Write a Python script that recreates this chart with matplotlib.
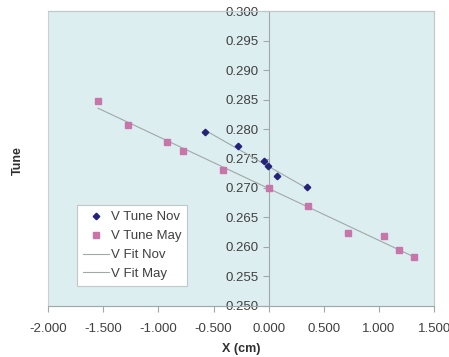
import numpy as np
import matplotlib
matplotlib.use("Agg")
import matplotlib.pyplot as plt
from matplotlib.ticker import FormatStrFormatter

plt.rcParams['font.family'] = ['Liberation Sans', 'DejaVu Sans']

nov_x = [-0.574, -0.280, -0.042, -0.003, 0.079, 0.348]
nov_tune = [0.2795, 0.2771, 0.2745, 0.2737, 0.2720, 0.2701]

may_x = [-1.547, -1.275, -0.921, -0.776, -0.414, 0.000, 0.359, 0.722, 1.048, 1.184, 1.318]
may_tune = [0.2847, 0.2807, 0.2778, 0.2763, 0.2731, 0.2700, 0.2670, 0.2624, 0.2619, 0.2595, 0.2583]

# linear fits
nov_fit = np.polyfit(nov_x, nov_tune, 1)
may_fit = np.polyfit(may_x, may_tune, 1)
nov_fx = np.array([min(nov_x), max(nov_x)])
may_fx = np.array([min(may_x), max(may_x)])

fig = plt.figure(figsize=(4.49, 3.57), dpi=100)
ax = fig.add_axes([0.107, 0.143, 0.86, 0.826])
ax.set_facecolor('#ddeef0')

ax.plot(nov_x, nov_tune, linestyle='none', marker='D', markersize=3.3,
        color='#23237a', label='V Tune Nov', zorder=3)
ax.plot(may_x, may_tune, linestyle='none', marker='s', markersize=4.2,
        color='#c875aa', label='V Tune May', zorder=3)
ax.plot(nov_fx, np.polyval(nov_fit, nov_fx), color='#a0a8a8', lw=0.8, label='V Fit Nov')
ax.plot(may_fx, np.polyval(may_fit, may_fx), color='#a0a8a8', lw=0.8, label='V Fit May')

ax.set_xlim(-2.0, 1.5)
ax.set_ylim(0.25, 0.30)
ax.set_xticks(np.arange(-2.0, 1.51, 0.5))
ax.set_yticks(np.arange(0.25, 0.3001, 0.005))
ax.xaxis.set_major_formatter(FormatStrFormatter('%.3f'))
ax.yaxis.set_major_formatter(FormatStrFormatter('%.3f'))

ax.spines['left'].set_position(('data', 0))
for s in ['top', 'right', 'bottom']:
    ax.spines[s].set_color('#c0c8c8')
ax.spines['left'].set_color('#a0a8a8')
ax.spines['bottom'].set_color('#a0a8a8')
ax.patch.set_edgecolor('#c8d0d0')
ax.patch.set_linewidth(0.8)

ax.tick_params(axis='both', labelsize=9.5, colors='#a0a8a8', labelcolor='#404040',
               length=4, width=0.8, direction='out')
ax.tick_params(axis='x', pad=8)

ax.set_xlabel('X (cm)', fontsize=9, fontweight='bold', labelpad=6, color='#303030')
fig.text(0.04, 0.55, 'Tune', rotation=90, fontsize=9, fontweight='bold',
         ha='center', va='center', color='#303030')

leg = ax.legend(loc='lower left', bbox_to_anchor=(0.075, 0.068), borderaxespad=0,
                fontsize=9.5, frameon=True, fancybox=False, framealpha=1,
                edgecolor='#c0c8c8', handlelength=2.0, handletextpad=0.1,
                borderpad=0.45, labelspacing=0.5)
leg.get_frame().set_linewidth(0.8)
for t in leg.get_texts():
    t.set_color('#404040')

plt.savefig('out.png', dpi=100)
